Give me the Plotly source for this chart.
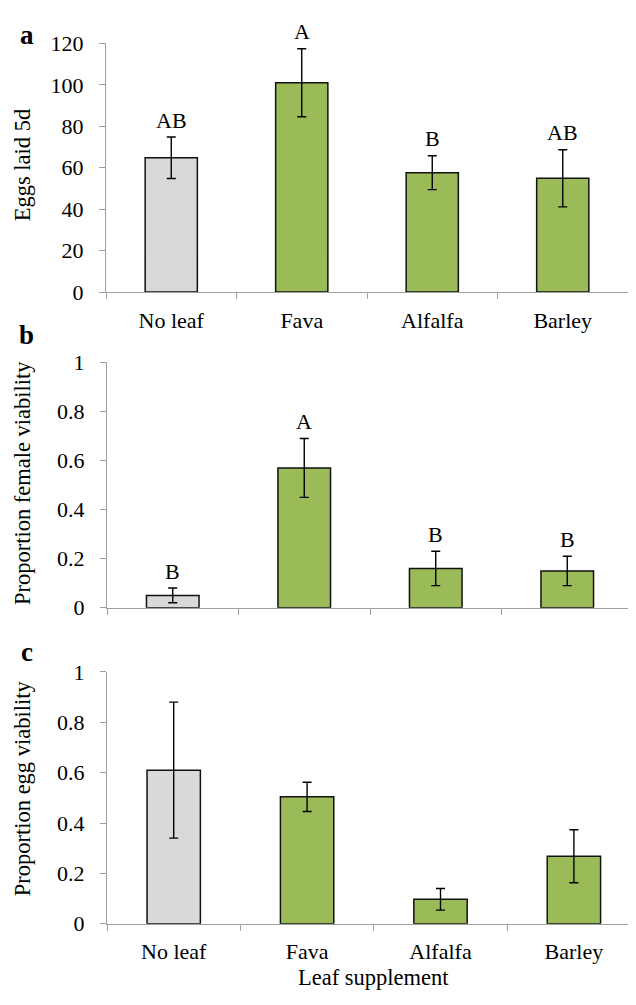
import plotly.graph_objects as go

categories = ["No leaf", "Fava", "Alfalfa", "Barley"]

eggs_laid = [64.8, 101.0, 57.6, 54.9]
eggs_laid_err = [10.0, 16.4, 8.2, 13.8]
eggs_letters = ["AB", "A", "B", "AB"]

female_viab = [0.05, 0.57, 0.16, 0.15]
female_viab_err = [0.03, 0.12, 0.07, 0.06]
female_letters = ["B", "A", "B", "B"]

egg_viab = [0.61, 0.504, 0.097, 0.268]
egg_viab_err = [0.27, 0.058, 0.043, 0.105]

bar_colors = ["#D9D9D9", "#9BBB59", "#9BBB59", "#9BBB59"]

# page body has an 8px margin; positions below are given in window pixels
OFF = 8
W, H = 636 - OFF, 1005 - OFF
FONT = "Liberation Serif, Times New Roman, serif"
AXIS_COLOR = "#A0A0A0"
TICK_SIZE = 22


def px(x):
    return (x - OFF) / W


def py(y):
    return 1 - (y - OFF) / H


# panel boxes in window pixels: (left, right, top, bottom, category width)
boxes = [(106, 628, 32, 287, 130.5), (107, 633, 359.3, 610.8, 131.5), (107, 636, 676.7, 935, 133.4)]
ranges = [[0, 120], [0, 1], [0, 1]]
dticks = [20, 0.2, 0.2]

fig = go.Figure()
series = [(eggs_laid, eggs_laid_err), (female_viab, female_viab_err), (egg_viab, egg_viab_err)]

for i, (vals, errs) in enumerate(series):
    n = "" if i == 0 else str(i + 1)
    fig.add_trace(go.Bar(
        x=categories, y=vals,
        marker=dict(color=bar_colors, line=dict(color="#111111", width=1.5)),
        error_y=dict(type="data", array=errs, visible=True, color="black", thickness=1.4, width=4.5),
        xaxis="x" + n, yaxis="y" + n, showlegend=False,
    ))
    l, r, t, b, cw = boxes[i]
    span = (r - l) / cw
    fig.layout["xaxis" + n] = dict(
        domain=[px(l), px(r)], anchor="y" + n, type="category",
        range=[-0.5, -0.5 + span],
        showline=True, linecolor=AXIS_COLOR, linewidth=1.3,
        ticks="outside", tickson="boundaries", ticklen=6, tickcolor=AXIS_COLOR, tickwidth=1.3,
        showgrid=False, showticklabels=(i != 1), ticklabelstandoff=8,
        tickfont=dict(family=FONT, size=TICK_SIZE, color="black"),
    )
    fig.layout["yaxis" + n] = dict(
        domain=[py(b), py(t)], anchor="x" + n, range=ranges[i],
        dtick=dticks[i], tick0=0,
        showline=True, linecolor=AXIS_COLOR, linewidth=1.3,
        ticks="outside", ticklen=6, tickcolor=AXIS_COLOR, tickwidth=1.3,
        showgrid=False, zeroline=False, ticklabelstandoff=11,
        tickfont=dict(family=FONT, size=TICK_SIZE, color="black"),
    )

annotations = []
# significance letters
for vals, errs, letters, n in [(eggs_laid, eggs_laid_err, eggs_letters, ""),
                                (female_viab, female_viab_err, female_letters, "2")]:
    for c, v, e, lt in zip(categories, vals, errs, letters):
        annotations.append(dict(x=c, y=v + e, xref="x" + n, yref="y" + n, text=lt,
                                showarrow=False, yanchor="middle", yshift=17,
                                font=dict(family=FONT, size=22, color="black")))

# y titles
ytitles = [("Eggs laid 5d", 157), ("Proportion female viability", 483), ("Proportion egg viability", 796)]
for txt, yc in ytitles:
    annotations.append(dict(x=px(22), y=py(yc), xref="paper", yref="paper", text=txt,
                            textangle=-90, showarrow=False, xanchor="center", yanchor="middle",
                            font=dict(family=FONT, size=22.5, color="black")))

# x title
annotations.append(dict(x=px(373.5), y=py(1005), xref="paper", yref="paper", text="Leaf supplement",
                        showarrow=False, xanchor="center", yanchor="bottom",
                        font=dict(family=FONT, size=22.5, color="black")))

# panel letters (baseline positions)
LET = 27
for txt, xc, base in [("a", 27, 34), ("b", 26, 342), ("c", 26.5, 667)]:
    annotations.append(dict(x=px(xc), y=py(base + 0.216 * LET + 1), xref="paper", yref="paper",
                            text="<b>%s</b>" % txt, showarrow=False, xanchor="center", yanchor="bottom",
                            font=dict(family=FONT, size=LET, color="black")))

fig.update_layout(
    width=W, height=H, margin=dict(l=0, r=0, t=0, b=0),
    paper_bgcolor="white", plot_bgcolor="white",
    bargap=0.6, annotations=annotations,
    font=dict(family=FONT, color="black"),
)

fig.write_html("out.html")
